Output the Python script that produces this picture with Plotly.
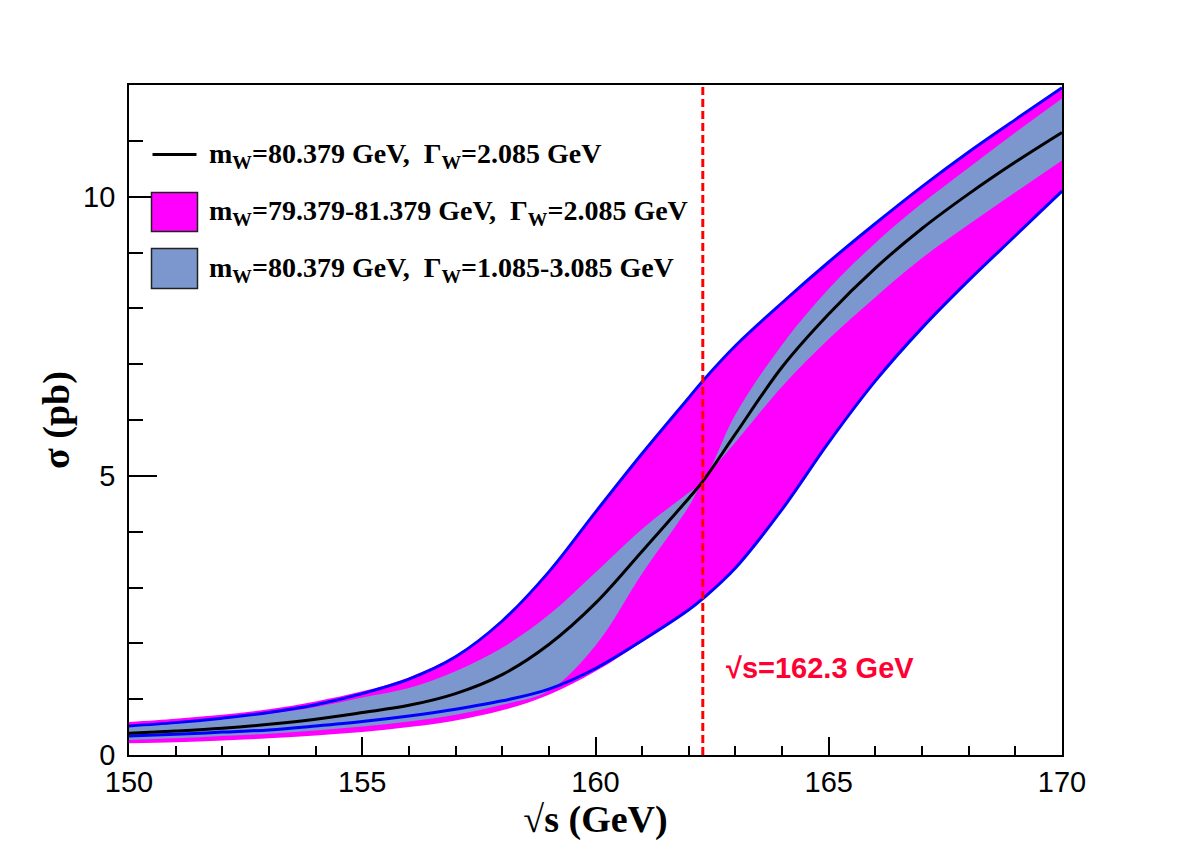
import plotly.graph_objects as go

# sqrt(s) grid (GeV)
sqrt_s = [150, 151, 152, 153, 154, 155, 156, 157, 158, 159, 160, 161, 162, 162.3,
          163, 164, 165, 166, 167, 168, 169, 170]

# central curve: mW=80.379, GammaW=2.085
sigma_central = [0.39, 0.43, 0.48, 0.55, 0.64, 0.76, 0.89, 1.10, 1.44, 1.98, 2.72, 3.65, 4.60, 4.90,
                 5.75, 6.95, 7.90, 8.72, 9.43, 10.05, 10.62, 11.15]

# mW variation curves (drawn in blue)
sigma_mw_low = [0.52, 0.58, 0.66, 0.76, 0.90, 1.10, 1.36, 1.76, 2.40, 3.28, 4.35, 5.40, 6.40, 6.70,
                7.33, 8.10, 8.83, 9.52, 10.18, 10.80, 11.38, 11.95]
sigma_mw_high = [0.34, 0.37, 0.41, 0.45, 0.52, 0.60, 0.70, 0.82, 0.97, 1.18, 1.55, 2.05, 2.60, 2.80,
                 3.35, 4.40, 5.60, 6.70, 7.65, 8.50, 9.30, 10.10]

# magenta band outer envelope
band_mw_upper = [0.59, 0.65, 0.72, 0.82, 0.96, 1.14, 1.39, 1.78, 2.40, 3.28, 4.35, 5.40, 6.40, 6.70,
                 7.33, 8.10, 8.83, 9.52, 10.18, 10.80, 11.38, 11.95]
band_mw_lower = [0.21, 0.23, 0.26, 0.30, 0.35, 0.41, 0.50, 0.62, 0.80, 1.08, 1.50, 2.03, 2.60, 2.80,
                 3.35, 4.40, 5.60, 6.70, 7.65, 8.50, 9.30, 10.10]

# GammaW variation band
band_gw_upper = [0.52, 0.58, 0.65, 0.74, 0.86, 1.03, 1.20, 1.50, 1.92, 2.51, 3.27, 4.05, 4.70, 4.90,
                 6.10, 7.35, 8.35, 9.17, 9.88, 10.52, 11.15, 11.76]
band_gw_lower = [0.27, 0.30, 0.34, 0.38, 0.44, 0.51, 0.60, 0.72, 0.90, 1.15, 1.96, 3.25, 4.45, 4.90,
                 5.60, 6.60, 7.45, 8.20, 8.90, 9.50, 10.08, 10.65]

threshold = 162.3
threshold_label = "√s=162.3 GeV"
x_ticks = [150, 155, 160, 165, 170]
y_ticks = [0, 5, 10]

MAGENTA = "#ff00ff"
STEEL = "#7b97cd"
BLUE = "#0000ff"

fig = go.Figure()
spl = dict(shape="spline", smoothing=1.0)

fig.add_trace(go.Scatter(x=sqrt_s, y=band_mw_lower, mode="lines",
                         line=dict(width=0, color=MAGENTA, **spl), showlegend=False, hoverinfo="skip"))
fig.add_trace(go.Scatter(x=sqrt_s, y=band_mw_upper, mode="lines", fill="tonexty", fillcolor=MAGENTA,
                         line=dict(width=0, color=MAGENTA, **spl), showlegend=False, hoverinfo="skip"))
fig.add_trace(go.Scatter(x=sqrt_s, y=band_gw_lower, mode="lines",
                         line=dict(width=0, color=STEEL, **spl), showlegend=False, hoverinfo="skip"))
fig.add_trace(go.Scatter(x=sqrt_s, y=band_gw_upper, mode="lines", fill="tonexty", fillcolor=STEEL,
                         line=dict(width=0, color=STEEL, **spl), showlegend=False, hoverinfo="skip"))
fig.add_trace(go.Scatter(x=sqrt_s, y=sigma_mw_low, mode="lines",
                         line=dict(width=3, color=BLUE, **spl), showlegend=False))
fig.add_trace(go.Scatter(x=sqrt_s, y=sigma_mw_high, mode="lines",
                         line=dict(width=3, color=BLUE, **spl), showlegend=False))
fig.add_trace(go.Scatter(x=sqrt_s, y=sigma_central, mode="lines",
                         line=dict(width=3, color="black", **spl), showlegend=False))
fig.add_trace(go.Scatter(x=[threshold, threshold], y=[0, 12], mode="lines",
                         line=dict(width=3, color="#ff0000", dash="8px,4px"), showlegend=False))

fig.add_annotation(x=threshold + 0.45, y=1.55, xref="x", yref="y", text="<b>" + threshold_label + "</b>",
                   showarrow=False, xanchor="left", yanchor="middle",
                   font=dict(family="Liberation Sans", size=29, color="#ff0033"))

# manual legend (paper coordinates)
W, H, L, B = 933.0, 670.0, 129.5, 754.5
def px(x):
    return (x - L) / W
def py(y):
    return (B - y) / H

fig.add_shape(type="line", xref="paper", yref="paper", x0=px(153), x1=px(197), y0=py(154), y1=py(154),
              line=dict(color="black", width=3))
fig.add_shape(type="rect", xref="paper", yref="paper", x0=px(152), x1=px(198), y0=py(231), y1=py(192),
              fillcolor=MAGENTA, line=dict(color="#222222", width=1.5))
fig.add_shape(type="rect", xref="paper", yref="paper", x0=px(152), x1=px(198), y0=py(288), y1=py(248),
              fillcolor=STEEL, line=dict(color="#222222", width=1.5))

legend_texts = [
    ("<b>m<sub>W</sub>=80.379 GeV,  Γ<sub>W</sub>=2.085 GeV</b>", 155),
    ("<b>m<sub>W</sub>=79.379-81.379 GeV,  Γ<sub>W</sub>=2.085 GeV</b>", 212),
    ("<b>m<sub>W</sub>=80.379 GeV,  Γ<sub>W</sub>=1.085-3.085 GeV</b>", 269),
]
for t, yy in legend_texts:
    fig.add_annotation(x=px(207), y=py(yy), xref="paper", yref="paper", text=t, showarrow=False,
                       xanchor="left", yanchor="middle",
                       font=dict(family="Liberation Serif", size=28, color="black"))

fig.update_layout(
    width=1182, height=848,
    margin=dict(l=129, r=120, t=85, b=93),
    plot_bgcolor="white", paper_bgcolor="white",
    showlegend=False,
)
fig.update_xaxes(range=[150, 170], tickvals=x_ticks, ticks="inside", ticklen=18, tickwidth=1.5,
                 tickcolor="black", minor=dict(dtick=1, ticks="inside", ticklen=9, tickwidth=1.5, tickcolor="black"),
                 showline=True, linecolor="black", linewidth=1.8, mirror=True, showgrid=False, zeroline=False,
                 tickfont=dict(family="Liberation Sans", size=29, color="black"),
                 title=dict(text="<b>√s (GeV)</b>", font=dict(family="Liberation Serif", size=38, color="black"),
                            standoff=0))
fig.update_yaxes(range=[0, 12], tickvals=y_ticks, ticks="inside", ticklen=28, tickwidth=1.5,
                 tickcolor="black", minor=dict(dtick=1, ticks="inside", ticklen=14, tickwidth=1.5, tickcolor="black"),
                 showline=True, linecolor="black", linewidth=1.8, mirror=True, showgrid=False, zeroline=False,
                 tickfont=dict(family="Liberation Sans", size=29, color="black"),
                 ticklabelstandoff=6,
                 title=dict(text="<b>σ (pb)</b>", font=dict(family="Liberation Serif", size=38, color="black"),
                            standoff=2))

fig.write_html("out.html")
